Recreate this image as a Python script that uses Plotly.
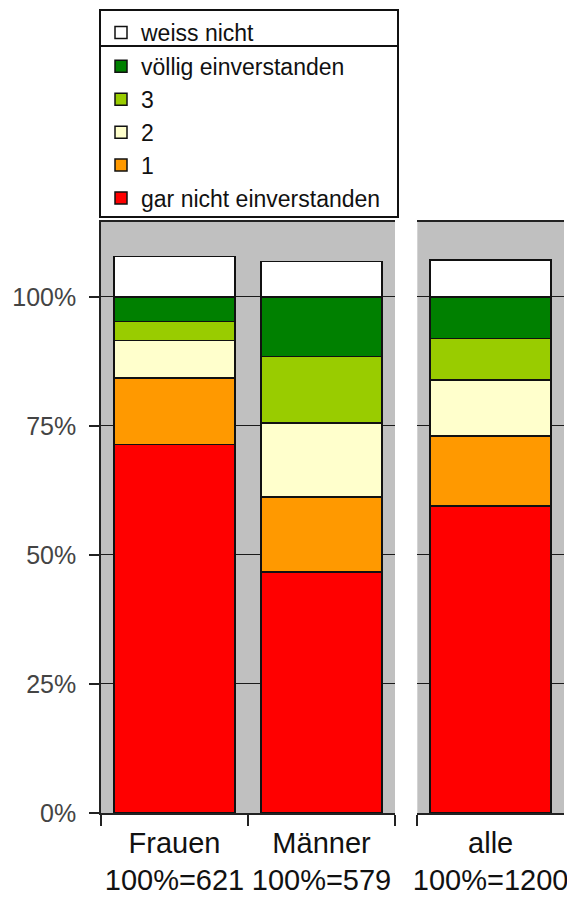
import plotly.graph_objects as go

# Survey answers by group, in percent of those who gave an opinion;
# "weiss nicht" is stacked on top of the 100 %.
categories = ["Frauen", "Männer", "alle"]
base_n = [621, 579, 1200]

series_names = ["gar nicht einverstanden", "1", "2", "3", "völlig einverstanden", "weiss nicht"]
gar_nicht = [71.4, 46.7, 59.5]
stufe_1 = [12.9, 14.5, 13.5]
stufe_2 = [7.2, 14.4, 10.9]
stufe_3 = [3.7, 12.8, 8.0]
voellig = [4.8, 11.6, 8.1]
weiss_nicht = [7.8, 6.8, 7.1]

y_ticks = [0, 25, 50, 75, 100]
y_tick_text = ["0%", "25%", "50%", "75%", "100%"]

series_values = [gar_nicht, stufe_1, stufe_2, stufe_3, voellig, weiss_nicht]
colors = ["#FF0000", "#FF9900", "#FFFFCC", "#99CC00", "#008000", "#FFFFFF"]
# legend lists "weiss nicht" first, then the scale from top to bottom
legend_rank = [6, 5, 4, 3, 2, 1]

tick_text = [f"{c}<br>100%={n}" for c, n in zip(categories, base_n)]

# Frauen and Männer share the left panel, "alle" gets its own panel
panels = [("x", "y", [0, 1]), ("x2", "y2", [2])]

fig = go.Figure()
for name, vals, col, rank in zip(series_names, series_values, colors, legend_rank):
    group = "unknown" if name == "weiss nicht" else "scale"
    for k, (xa, ya, idx) in enumerate(panels):
        fig.add_trace(go.Bar(
            x=[tick_text[i] for i in idx],
            y=[vals[i] for i in idx],
            name=name,
            legendgroup=group,
            legendrank=rank,
            showlegend=(k == 0),
            marker=dict(color=col, line=dict(color="#111111", width=1.5)),
            xaxis=xa, yaxis=ya,
            hovertemplate="%{y:.1f}%<extra>" + name + "</extra>",
        ))

W, H = 567, 897
L, R, T, B = 101, 3, 222, 84
pw = W - L - R
ph = H - T - B


def px_x(v):
    return (v - L) / pw


def px_y(v):
    return (H - B - v) / ph


axis_font = dict(family="Liberation Sans, Arial, sans-serif", size=29, color="#111111")
ytick_font = dict(family="Liberation Sans, Arial, sans-serif", size=25, color="#444444")

xcommon = dict(
    type="category", showline=True, linecolor="#222222", linewidth=1.5, mirror=True,
    ticks="outside", tickson="boundaries", ticklen=11, tickcolor="#222222", tickwidth=1.5,
    showgrid=False, tickfont=axis_font, ticklabelstandoff=3, tickangle=0, automargin=False,
)

fig.update_layout(
    width=W, height=H,
    margin=dict(l=L, r=R, t=T, b=B, pad=0, autoexpand=False),
    paper_bgcolor="white",
    plot_bgcolor="#C0C0C0",
    barmode="stack",
    bargap=0.175,
    xaxis=dict(domain=[0, px_x(395)], anchor="y", **xcommon),
    xaxis2=dict(domain=[px_x(417.3), 1], anchor="y2", **xcommon),
    yaxis=dict(
        range=[0, 114.5], tickmode="array", tickvals=y_ticks, ticktext=y_tick_text,
        showgrid=True, gridcolor="#1a1a1a", gridwidth=1, zeroline=False,
        showline=True, linecolor="#222222", linewidth=1.5,
        ticks="outside", ticklen=10, tickcolor="#222222", tickwidth=1.5,
        tickfont=ytick_font, ticklabelstandoff=8, automargin=False,
    ),
    yaxis2=dict(
        anchor="x2", range=[0, 114.5], tickmode="array", tickvals=y_ticks,
        showticklabels=False, showgrid=True, gridcolor="#1a1a1a", gridwidth=1,
        zeroline=False, showline=False, ticks="", automargin=False,
    ),
    legend=dict(
        xref="container", yref="container",
        x=101 / W, y=1 - 11 / H, xanchor="left", yanchor="top",
        traceorder="grouped", tracegroupgap=1,
        bgcolor="rgba(0,0,0,0)", borderwidth=0,
        font=dict(family="Liberation Sans, Arial, sans-serif", size=23, color="#111111"),
    ),
)

# legend frame with a divider under "weiss nicht"
fig.add_shape(type="rect", xref="paper", yref="paper", layer="below",
              x0=px_x(100), x1=px_x(398), y0=px_y(217), y1=px_y(10),
              fillcolor="white", line=dict(color="#111111", width=2))
fig.add_shape(type="line", xref="paper", yref="paper",
              x0=px_x(100), x1=px_x(398), y0=px_y(46), y1=px_y(46),
              line=dict(color="#111111", width=2))

fig.write_html("out.html")
